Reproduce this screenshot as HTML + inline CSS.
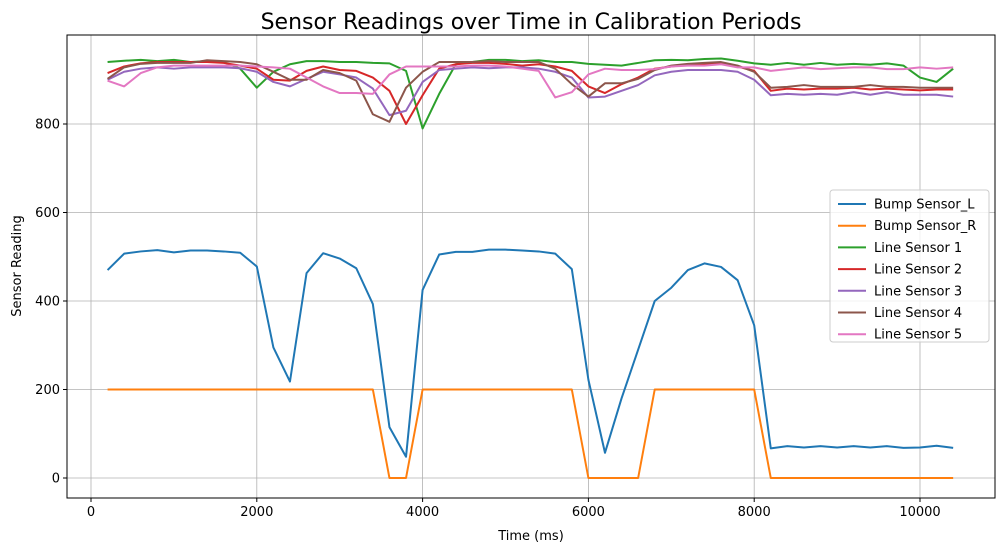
<!DOCTYPE html>
<html><head><meta charset="utf-8"><style>
body{margin:0;background:#fff;font-family:"Liberation Sans","DejaVu Sans",sans-serif}
svg text{font-family:"DejaVu Sans","Liberation Sans",sans-serif}
</style></head><body>
<svg id="chart" width="1005" height="552" xmlns="http://www.w3.org/2000/svg"></svg>
<script>
const times=[];for(let t=200;t<=10400;t+=200)times.push(t);
const bumpL=[470,507,512,515,510,514,514,512,509,478,295,218,463,508,496,474,393,115,48,425,505,511,511,516,516,514,512,507,472,222,57,180,290,400,430,470,485,477,447,345,67,72,69,72,69,72,69,72,68,69,73,68];
const bumpR=[200,200,200,200,200,200,200,200,200,200,200,200,200,200,200,200,200,0,0,200,200,200,200,200,200,200,200,200,200,0,0,0,0,200,200,200,200,200,200,200,0,0,0,0,0,0,0,0,0,0,0,0];
const line1=[940,943,945,942,945,940,942,940,925,882,918,935,942,942,940,940,938,937,920,790,868,935,940,945,945,942,944,940,940,936,934,932,938,944,945,944,947,948,943,937,934,938,934,938,934,936,934,937,932,905,895,925];
const line2=[915,930,937,940,940,940,940,938,932,925,900,898,920,930,922,920,905,875,800,865,925,935,938,938,936,932,935,930,920,885,870,890,905,925,930,935,935,937,930,920,875,880,878,880,880,882,878,880,878,876,878,878];
const line3=[900,918,925,928,925,928,928,928,926,918,895,885,902,918,912,905,880,820,830,895,922,925,928,926,928,928,925,918,905,860,862,875,888,910,918,922,922,922,918,900,865,868,866,868,866,872,866,872,866,866,866,862];
const line4=[902,928,936,938,938,938,944,942,940,935,918,900,900,922,915,898,822,805,882,918,940,940,940,942,940,940,940,925,890,862,892,892,902,922,932,936,938,940,932,918,882,884,888,884,884,884,888,884,884,882,882,882];
const line5=[898,885,915,928,932,932,932,932,932,930,928,925,905,885,870,870,868,912,930,930,930,930,932,932,930,925,920,860,872,912,925,922,922,924,930,932,932,935,928,928,920,924,928,924,926,928,928,924,924,928,925,928];
const seriesNames=["Bump Sensor_L","Bump Sensor_R","Line Sensor 1","Line Sensor 2","Line Sensor 3","Line Sensor 4","Line Sensor 5"];
const seriesData=[bumpL,bumpR,line1,line2,line3,line4,line5];
const colors=["#1f77b4","#ff7f0e","#2ca02c","#d62728","#9467bd","#8c564b","#e377c2"];
const xTicks=[0,2000,4000,6000,8000,10000];
const yTicks=[0,200,400,600,800];
const NS="http://www.w3.org/2000/svg";
const svg=document.getElementById('chart');
const L=67,R=995,T=35,B=498;
const xs=t=>91+(t-0)*(920-91)/10000;
const ys=v=>478-v*(478-124)/800;
function el(tag,attrs,parent){const e=document.createElementNS(NS,tag);for(const k in attrs)e.setAttribute(k,attrs[k]);(parent||svg).appendChild(e);return e;}
// grid
xTicks.forEach(t=>{const g=el('line',{x1:xs(t),x2:xs(t),y1:T,y2:B,stroke:'#b0b0b0','stroke-width':0.8});


el('line',{x1:xs(t),x2:xs(t),y1:B,y2:B+4,stroke:'#000'});
const tx=el('text',{x:xs(t),y:B+18,'text-anchor':'middle','font-size':13});tx.textContent=t;

});
yTicks.forEach(v=>{const g=el('line',{x1:L,x2:R,y1:ys(v),y2:ys(v),stroke:'#b0b0b0','stroke-width':0.8});


el('line',{x1:L-4,x2:L,y1:ys(v),y2:ys(v),stroke:'#000'});
const tx=el('text',{x:L-7,y:ys(v)+4.5,'text-anchor':'end','font-size':13});tx.textContent=v;

});
// series
seriesData.forEach((d,i)=>{const p=el('polyline',{points:d.map((v,j)=>xs(times[j])+','+ys(v)).join(' '),fill:'none',stroke:colors[i],'stroke-width':2,'stroke-linejoin':'round'});

});
const fr=el('rect',{x:L,y:T,width:R-L,height:B-T,fill:'none',stroke:'#000','stroke-width':1});


const ti=el('text',{x:(L+R)/2,y:29,'text-anchor':'middle','font-size':22});ti.textContent='Sensor Readings over Time in Calibration Periods';


const xl=el('text',{x:(L+R)/2,y:540,'text-anchor':'middle','font-size':13});xl.textContent='Time (ms)';


const yl=el('text',{x:0,y:0,'text-anchor':'middle','font-size':13,transform:'translate(21,266) rotate(-90)'});yl.textContent='Sensor Reading';


// legend
const lg=el('g',{});


el('rect',{x:830,y:190,width:159,height:152,rx:3,fill:'#fff','fill-opacity':0.8,stroke:'#ccc'},lg);
seriesNames.forEach((n,i)=>{const y=204+i*21.7;
const ln=el('line',{x1:838,x2:866,y1:y,y2:y,stroke:colors[i],'stroke-width':2},lg);


const t=el('text',{x:874,y:y+4.5,'font-size':13},lg);t.textContent=n;

});
</script>
</body></html>
